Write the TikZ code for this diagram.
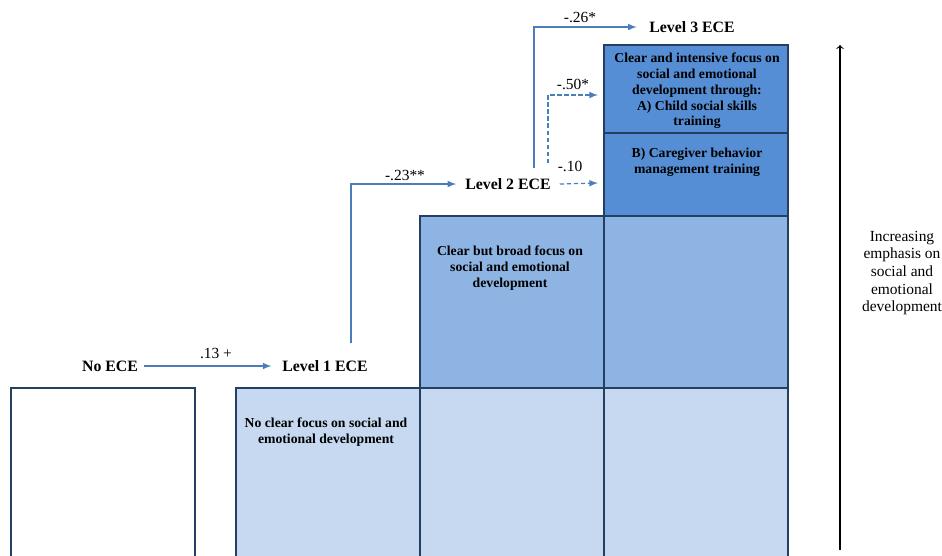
\documentclass[tikz,border=0pt]{standalone}
\usepackage{fontspec}
\setmainfont{Liberation Serif}
\usepackage{tikz}
\definecolor{edgeblue}{HTML}{243F60}
\definecolor{lowfill}{HTML}{C6D9F1}
\definecolor{midfill}{HTML}{8EB4E3}
\definecolor{topfill}{HTML}{558ED5}
\definecolor{pathblue}{HTML}{4A7EBB}
\tikzset{
  col/.style={draw=edgeblue, line width=1.4pt},
  lvl/.style={font=\bfseries\fontsize{9}{11}\selectfont, inner sep=2pt},
  boxtext/.style={font=\bfseries\fontsize{7.8}{9}\selectfont, align=center},
  coef/.style={font=\fontsize{8.8}{10}\selectfont},
  link/.style={draw=pathblue, line width=0.7pt, -latex},
  dlink/.style={link, dash pattern=on 2.5pt off 1.5pt}
}

\begin{document}
\begin{tikzpicture}[x=0.02cm, y=-0.02cm]
  \useasboundingbox (0,0) rectangle (942,555);
  \clip (0,0) rectangle (942,555);
  % columns
  \draw[col, fill=white] (11,388) rectangle (195,570);
  \draw[col, fill=lowfill] (236,388) rectangle (420,570);
  \draw[col, fill=lowfill] (420,388) rectangle (604,570);
  \draw[col, fill=lowfill] (604,388) rectangle (788,570);
  \draw[col, fill=midfill] (420,216) rectangle (604,388);
  \draw[col, fill=midfill] (604,216) rectangle (788,388);
  \draw[col, fill=topfill] (604,133) rectangle (788,216);
  \draw[col, fill=topfill] (604,45) rectangle (788,133);

  % box texts
  \node[boxtext] (nofocus) at (326,432) {No clear focus on social and\\emotional development};
  \node[boxtext] (broad) at (510,268) {Clear but broad focus on\\social and emotional\\development};
  \node[boxtext] (intense) at (697,91) {Clear and intensive focus on\\social and emotional\\development through:\\A) Child social skills\\training};
  \node[boxtext] (carer) at (697,162) {B) Caregiver behavior\\management training};

  % levels
  \node[lvl] (noece) at (110,366) {No ECE};
  \node[lvl] (lone) at (325,366) {Level 1 ECE};
  \node[lvl] (ltwo) at (508,184) {Level 2 ECE};
  \node[lvl] (lthree) at (692,27) {Level 3 ECE};
  \coordinate (oneup) at (351,343);
  \coordinate (twoup) at (534,168);
  \coordinate (twodash) at (548,163);
  \coordinate (skills) at (598,95);
  \coordinate (behav) at (598,183);

  % paths
  \draw[link, shorten <=1pt, shorten >=4pt] (noece.east) -- (lone.west);
  \draw[link] (oneup) |- ([xshift=-3pt]ltwo.west);
  \draw[link] (twoup) |- ([xshift=-5pt]lthree.west);
  \draw[dlink] (twodash) |- (skills);
  \draw[dlink] ([xshift=3pt]ltwo.east) -- (behav);
  \node[coef] (c1) at (216,353) {.13 +};
  \node[coef] (c2) at (405,175) {-.23**};
  \node[coef] (c3) at (580,17) {-.26*};
  \node[coef] (c4) at (573,84) {-.50*};
  \node[coef] (c5) at (570,166) {-.10};

  % emphasis axis
  \coordinate (axbot) at (840,550);
  \coordinate (axtop) at (840,45);
  \draw[-to, line width=0.6pt] (axbot) -- (axtop);
  \node[coef, align=center] (emph) at (902,273) {Increasing\\emphasis on\\social and\\emotional\\development};
\end{tikzpicture}
\end{document}
